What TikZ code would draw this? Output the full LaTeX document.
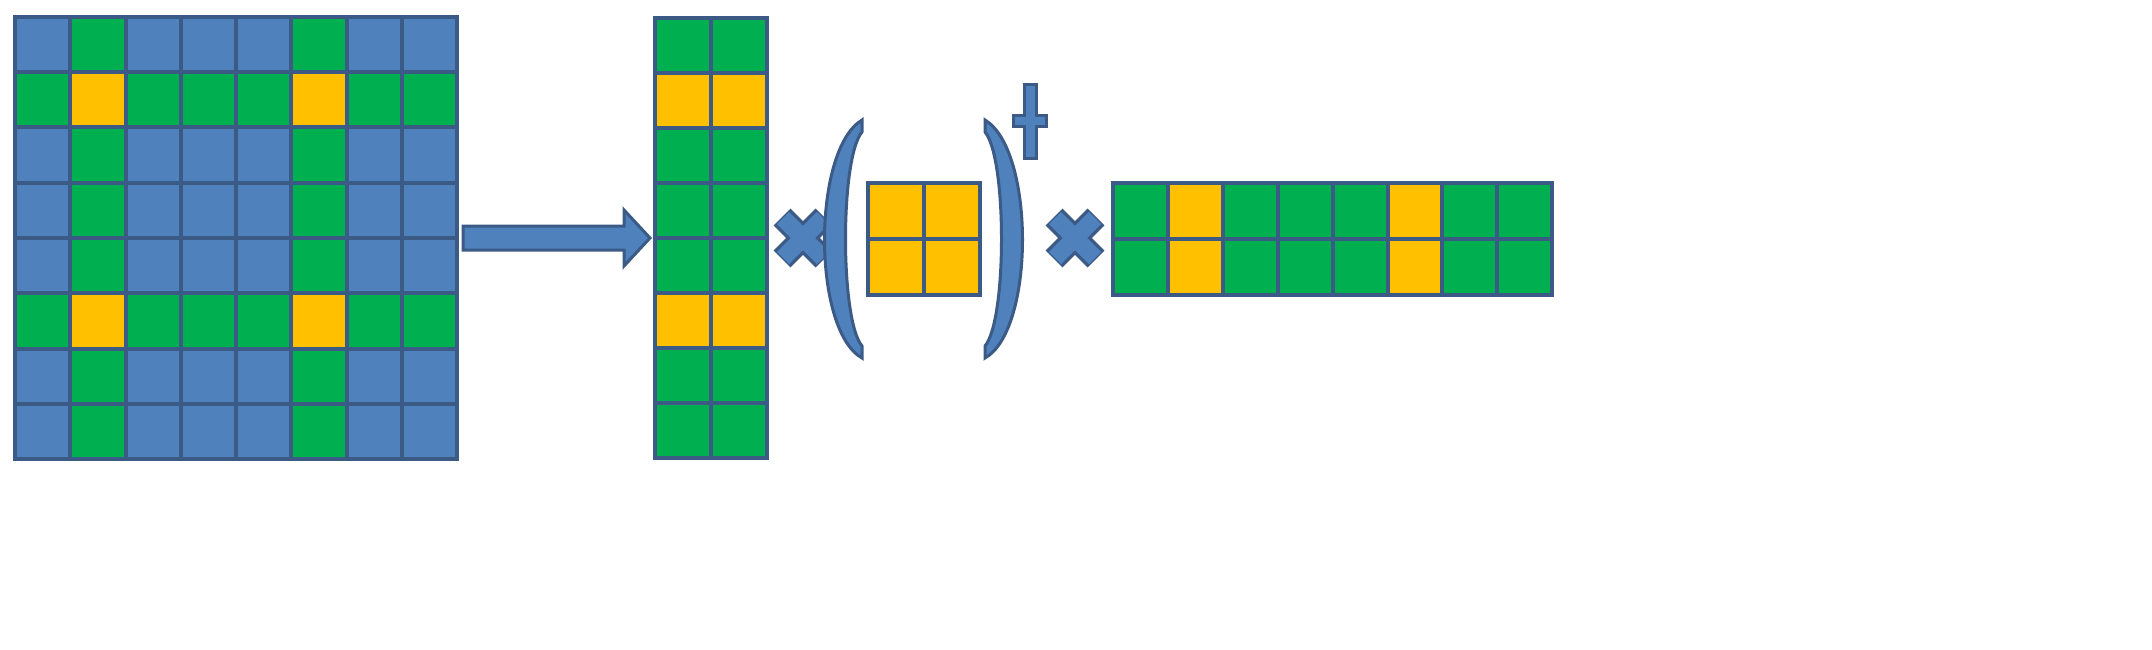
\documentclass[tikz,border=0pt]{standalone}
\definecolor{cblue}{HTML}{4F81BD}
\definecolor{cgreen}{HTML}{00B050}
\definecolor{cyellow}{HTML}{FFC000}
\definecolor{cedge}{HTML}{3B5A86}
\tikzset{
  cell/.style={draw=cedge, line width=4pt},
  bigsign/.style={draw=cedge, fill=cblue, line width=3pt},
}
\begin{document}
\begin{tikzpicture}[x=1pt,y=-1pt]
\useasboundingbox (0,0) rectangle (2152,650);
% big grid
\foreach \r in {0,...,7}
  \foreach \c in {0,...,7}{
    \pgfmathsetmacro{\gr}{(\r==1 || \r==5) ? 1 : 0}
    \pgfmathsetmacro{\gc}{(\c==1 || \c==5) ? 1 : 0}
    \pgfmathtruncatemacro{\k}{\gr+\gc}
    \ifcase\k \def\col{cblue}\or \def\col{cgreen}\else \def\col{cyellow}\fi
    \draw[cell, fill=\col] (15+\c*55.25,17+\r*55.25) rectangle ++(55.25,55.25);
  }
% arrow
\draw[bigsign] (463,226) -- (624,226) -- (624,210) -- (650,238) -- (624,266)
  -- (624,250) -- (463,250) -- cycle;
% column
\foreach \r in {0,...,7}
  \foreach \c in {0,1}{
    \pgfmathtruncatemacro{\k}{(\r==1 || \r==5) ? 1 : 0}
    \ifcase\k \def\col{cgreen}\else \def\col{cyellow}\fi
    \draw[cell, fill=\col] (655+\c*56,18+\r*55) rectangle ++(56,55);
  }
% times signs
\foreach \xc in {803,1075}{
  \draw[cedge, line width=24pt] (\xc-21,238-21) -- (\xc+21,238+21) (\xc-21,238+21) -- (\xc+21,238-21);
  \draw[cblue, line width=17pt] (\xc-20,238-20) -- (\xc+20,238+20) (\xc-20,238+20) -- (\xc+20,238-20);
}
% parentheses
\draw[bigsign] (862,120) .. controls (812,150) and (812,330) .. (862,358)
  -- (862,346) .. controls (840,320) and (840,158) .. (862,132) -- cycle;
\draw[bigsign] (985,120) .. controls (1035,150) and (1035,330) .. (985,358)
  -- (985,346) .. controls (1007,320) and (1007,158) .. (985,132) -- cycle;
% dagger
\draw[bigsign] (1024,85) -- (1036,85) -- (1036,116) -- (1046,116) -- (1046,127)
  -- (1036,127) -- (1036,158) -- (1024,158) -- (1024,127) -- (1013,127)
  -- (1013,116) -- (1024,116) -- cycle;
% small square
\foreach \r in {0,1}
  \foreach \c in {0,1}
    \draw[cell, fill=cyellow] (868+\c*56,183+\r*56) rectangle ++(56,56);
% row
\foreach \r in {0,1}
  \foreach \c in {0,...,7}{
    \pgfmathtruncatemacro{\k}{(\c==1 || \c==5) ? 1 : 0}
    \ifcase\k \def\col{cgreen}\else \def\col{cyellow}\fi
    \draw[cell, fill=\col] (1113+\c*54.9,183+\r*56) rectangle ++(54.9,56);
  }
\end{tikzpicture}
\end{document}
